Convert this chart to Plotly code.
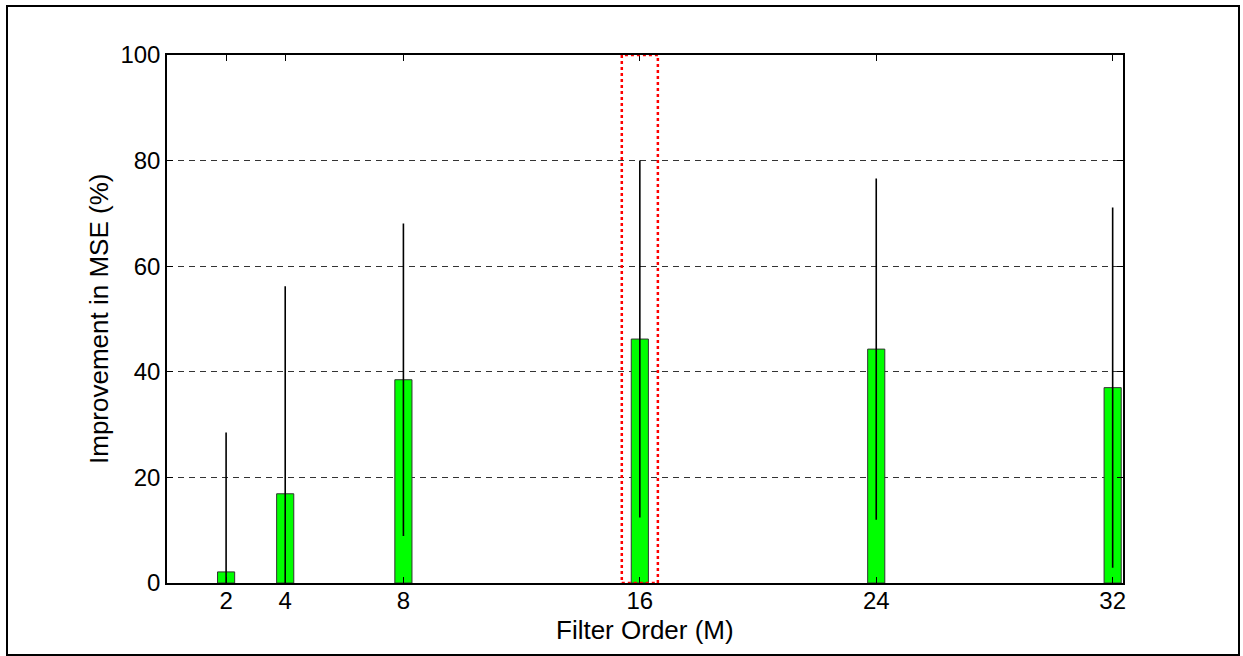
import plotly.graph_objects as go

filter_order = [2, 4, 8, 16, 24, 32]
improvement = [2.1, 16.9, 38.5, 46.2, 44.3, 37.0]
std_dev = [26.4, 39.3, 29.6, 33.8, 32.3, 34.1]
x_ticks = [2, 4, 8, 16, 24, 32]
y_ticks = [0, 20, 40, 60, 80, 100]
highlight = 16
x_title = "Filter Order (M)"
y_title = "Improvement in MSE (%)"

FONT = "Liberation Sans, Arial, sans-serif"

fig = go.Figure()
fig.add_trace(go.Bar(
    x=filter_order, y=improvement, width=0.58,
    marker=dict(color="#00ff00", line=dict(color="#333333", width=1)),
    error_y=dict(type="data", array=std_dev, visible=True, color="black",
                 thickness=1.6, width=0),
    showlegend=False,
))

L, R, T, B = 167, 1123, 55, 583
W, H = 1243, 656
PW, PH = R - L, B - T

# highlight box around M=16
fig.add_shape(type="rect", xref="x", yref="y",
              x0=highlight - 0.61, x1=highlight + 0.61, y0=0, y1=100,
              line=dict(color="red", width=2.5, dash="dot"), layer="above")

# outer frame
fig.add_shape(type="rect", xref="paper", yref="paper",
              x0=(7 - L) / PW, x1=(1239 - L) / PW,
              y0=(B - 655) / PH, y1=(B - 6) / PH,
              line=dict(color="black", width=2))

# axis titles
fig.add_annotation(text=x_title, xref="paper", yref="paper",
                   x=0.5, y=(B - 630) / PH, xanchor="center", yanchor="middle",
                   showarrow=False, font=dict(size=26))
fig.add_annotation(text=y_title, xref="paper", yref="paper",
                   x=(99 - L) / PW, y=0.5, xanchor="center", yanchor="middle",
                   textangle=-90, showarrow=False, font=dict(size=26))

fig.update_layout(
    width=W, height=H,
    margin=dict(l=L, r=W - R, t=T, b=H - B),
    paper_bgcolor="white", plot_bgcolor="white",
    font=dict(family=FONT, size=24, color="black"),
    xaxis=dict(
        range=[0, 32.35], tickvals=x_ticks, ticktext=[str(v) for v in x_ticks],
        showgrid=False, zeroline=False, showline=True, linecolor="black",
        linewidth=1.5, mirror="allticks", ticks="inside", ticklen=6,
        tickcolor="black", tickfont=dict(size=24), ticklabelstandoff=-5,
    ),
    yaxis=dict(
        range=[0, 100], tickvals=y_ticks, ticktext=[str(v) for v in y_ticks],
        showgrid=True, gridcolor="#333333", griddash="6px,5px", gridwidth=1,
        zeroline=False, showline=True, linecolor="black",
        linewidth=1.5, mirror="allticks", ticks="inside", ticklen=6,
        tickcolor="black", tickfont=dict(size=24),
    ),
)

fig.write_html("out.html")
